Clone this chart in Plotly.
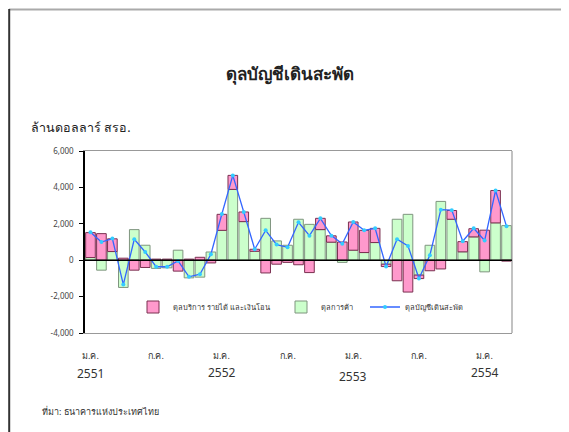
import plotly.graph_objects as go

# Monthly data, Jan 2551 - Mar 2554 (million USD)
trade = [146, -548, 475, -1497, 1680, 822, -450, -420, 550, -970, -930, 450,
         1640, 3890, 2120, 490, 2300, 1060, 820, 2250, 1970, 1680, 990, -120,
         550, 420, 970, -220, 2250, 2520, -820, 820, 3230, 2250, 460, 1280,
         -640, 2050, 1900]
services = [1370, 1460, 700, 110, -548, -400, 60, 60, -600, 60, 160, -150,
            880, 770, 530, 110, -700, -220, -120, -250, -680, 620, 350, 1000,
            1550, 1220, 780, -130, -1130, -1750, -190, -580, -480, 480, 560, 450,
            1650, 1780, -50]
current_account = [1530, 1000, 1190, -1340, 1150, 450, -360, -360, -40, -910, -770, 330,
                   2540, 4660, 2650, 600, 1640, 860, 710, 2080, 1350, 2300, 1350, 900,
                   2100, 1640, 1750, -350, 1150, 785, -1004, 274, 2776, 2750, 1040, 1750,
                   1080, 3830, 1860]

month_tick_idx = [0, 6, 12, 18, 24, 30, 36]
month_tick_text = ["ม.ค.", "ก.ค.", "ม.ค.", "ก.ค.", "ม.ค.", "ก.ค.", "ม.ค."]
year_idx = [0, 12, 24, 36]
year_text = ["2551", "2552", "2553", "2554"]
y_tickvals = [-4000, -2000, 0, 2000, 4000, 6000]
y_ticktext = ["-4,000", "-2,000", "0", "2,000", "4,000", "6,000"]

name_services = "ดุลบริการ รายได้ และเงินโอน"
name_trade = "ดุลการค้า"
name_ca = "ดุลบัญชีเดินสะพัด"

x = list(range(len(trade)))
FONT = "Noto Sans, DejaVu Sans, sans-serif"

# page is rendered with an 8px body margin; compensate
OFF = 8
W, H = 569, 432
L, R, T, B = 85, 512, 151, 333   # target plot area in window pixels
def px(xp):
    return (xp - L) / (R - L)
def py(yp):
    return (B - yp) / (B - T)

fig = go.Figure()
fig.add_trace(go.Bar(x=x, y=trade, name=name_trade, legend="legend2",
                     marker=dict(color="#CCFFCC", line=dict(color="#7f957f", width=1))))
fig.add_trace(go.Bar(x=x, y=services, name=name_services, legend="legend",
                     marker=dict(color="#FF99CC", line=dict(color="#7a3050", width=1))))
fig.add_trace(go.Scatter(x=x, y=current_account, name=name_ca, legend="legend3",
                         mode="lines+markers",
                         line=dict(color="#3366FF", width=1.3),
                         marker=dict(color="#33CCFF", size=4, symbol="circle")))

legend_common = dict(orientation="h", bgcolor="rgba(0,0,0,0)", yanchor="middle",
                     font=dict(family=FONT, size=7.5, color="#333333"),
                     itemwidth=30, tracegroupgap=0)

annotations = []
for i, t in zip(month_tick_idx, month_tick_text):
    annotations.append(dict(x=i, y=py(355), xref="x", yref="paper", text=t,
                            showarrow=False, font=dict(family=FONT, size=9, color="#333333"),
                            xanchor="center", yanchor="middle"))
year_y = [373, 372, 376, 372]
for i, t, yy in zip(year_idx, year_text, year_y):
    annotations.append(dict(x=i, y=py(yy), xref="x", yref="paper", text=t,
                            showarrow=False, font=dict(family=FONT, size=12, color="#333333"),
                            xanchor="center", yanchor="middle"))
annotations.append(dict(x=px(290), y=py(73), xref="paper", yref="paper",
                        text="<b>ดุลบัญชีเดินสะพัด</b>", showarrow=False,
                        font=dict(family=FONT, size=17, color="#222222"),
                        xanchor="center", yanchor="middle"))
annotations.append(dict(x=px(29), y=py(127), xref="paper", yref="paper",
                        text="ล้านดอลลาร์ สรอ.", showarrow=False,
                        font=dict(family=FONT, size=12.5, color="#222222"),
                        xanchor="left", yanchor="middle"))
annotations.append(dict(x=px(40), y=py(411), xref="paper", yref="paper",
                        text="ที่มา: ธนาคารแห่งประเทศไทย", showarrow=False,
                        font=dict(family=FONT, size=9, color="#333333"),
                        xanchor="left", yanchor="middle"))

shapes = [
    # outer frame: top gray, left dark (drawn as close to the page corner as possible)
    dict(type="line", xref="paper", yref="paper", x0=px(9), x1=px(580), y0=py(9.5), y1=py(9.5),
         line=dict(color="#aaaaaa", width=2)),
    dict(type="line", xref="paper", yref="paper", x0=px(9.2), x1=px(9.2), y0=py(9), y1=py(440),
         line=dict(color="#333333", width=2)),
    # right border of plot area
    dict(type="line", xref="paper", yref="paper", x0=1, x1=1, y0=0, y1=1,
         line=dict(color="#999999", width=1.2)),
    # zero line above bars
    dict(type="line", xref="paper", yref="y", x0=0, x1=1, y0=0, y1=0, layer="above",
         line=dict(color="#000000", width=1.5)),
]

fig.update_layout(
    width=W, height=H,
    margin=dict(l=L - OFF, r=W - (R - L) - (L - OFF), t=T - OFF, b=H - (B - T) - (T - OFF)),
    paper_bgcolor="white", plot_bgcolor="white",
    barmode="relative", bargap=0.12,
    showlegend=True,
    legend=dict(x=px(133), y=py(307), **legend_common),
    legend2=dict(x=px(281), y=py(307), **legend_common),
    legend3=dict(x=px(365), y=py(307), **legend_common),
    xaxis=dict(range=[-0.5, len(trade) - 0.5], showticklabels=False, ticks="",
               showgrid=False, zeroline=False, showline=True, mirror=True,
               linecolor="#999999", linewidth=1.2),
    yaxis=dict(range=[-4000, 6000], tickvals=y_tickvals, ticktext=y_ticktext,
               ticks="outside", ticklen=4, tickcolor="#000000",
               ticklabelstandoff=4,
               tickfont=dict(family=FONT, size=8, color="#444444"),
               showgrid=False, zeroline=False, showline=True, linecolor="#000000",
               linewidth=1.5),
    annotations=annotations,
    shapes=shapes,
)

fig.write_html("out.html")
